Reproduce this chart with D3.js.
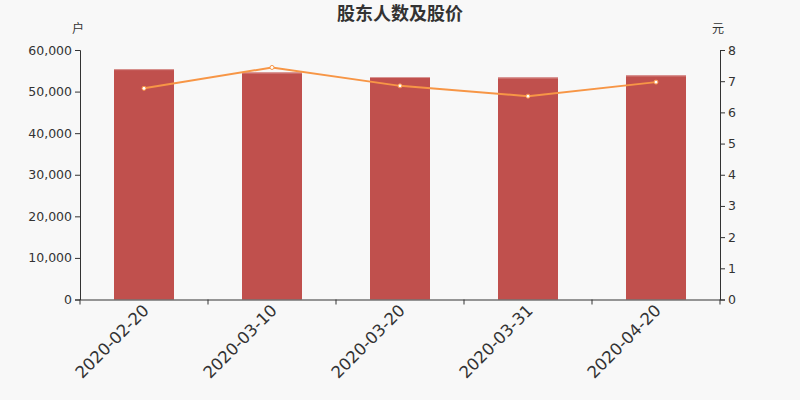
<!DOCTYPE html>
<html>
<head>
<meta charset="utf-8">
<script src="https://cdn.jsdelivr.net/npm/d3@7/dist/d3.min.js"></script>
<style>
  body { margin: 0; background: #f8f8f8; }
  svg { display: block; font-family: "DejaVu Sans", sans-serif; }
</style>
</head>
<body>
<div id="chart"></div>
<script>
const FRAME_WIDTH = 800;
const FRAME_HEIGHT = 400;
const MARGINS = {left: 80, right: 80, top: 50, bottom: 100.5};

const dates = ["2020-02-20", "2020-03-10", "2020-03-20", "2020-03-31", "2020-04-20"];
const holders = [55400, 54600, 53500, 53400, 53900];
const prices = [6.77, 7.44, 6.85, 6.52, 6.97];
const leftTicks = [0, 10000, 20000, 30000, 40000, 50000, 60000];
const rightTicks = [0, 1, 2, 3, 4, 5, 6, 7, 8];

const VIS_WIDTH = FRAME_WIDTH - MARGINS.left - MARGINS.right;
const VIS_HEIGHT = FRAME_HEIGHT - MARGINS.top - MARGINS.bottom;

const FRAME = d3.select("#chart")
  .append("svg")
    .attr("width", FRAME_WIDTH)
    .attr("height", FRAME_HEIGHT);

FRAME.append("rect")
  .attr("width", FRAME_WIDTH)
  .attr("height", FRAME_HEIGHT)
  .attr("fill", "#f8f8f8");

const X_SCALE = d3.scaleBand()
  .domain(dates)
  .range([MARGINS.left, MARGINS.left + VIS_WIDTH]);

const Y_LEFT = d3.scaleLinear()
  .domain([0, 60000])
  .range([MARGINS.top + VIS_HEIGHT, MARGINS.top]);

const Y_RIGHT = d3.scaleLinear()
  .domain([0, 8])
  .range([MARGINS.top + VIS_HEIGHT, MARGINS.top]);

const BAR_W = 60;
const data = dates.map((d, i) => ({date: d, holders: holders[i], price: prices[i]}));

// bars
FRAME.selectAll(".bar")
  .data(data)
  .enter()
  .append("rect")
    .attr("class", "bar")
    .attr("x", d => X_SCALE(d.date) + (X_SCALE.bandwidth() - BAR_W) / 2)
    .attr("y", d => Y_LEFT(d.holders))
    .attr("width", BAR_W)
    .attr("height", d => Y_LEFT(0) - Y_LEFT(d.holders))
    .attr("fill", "#c0504d");

// thin lighter cap on each bar
FRAME.selectAll(".cap")
  .data(data)
  .enter()
  .append("rect")
    .attr("class", "cap")
    .attr("x", d => X_SCALE(d.date) + (X_SCALE.bandwidth() - BAR_W) / 2)
    .attr("y", d => Y_LEFT(d.holders))
    .attr("width", BAR_W)
    .attr("height", 1)
    .attr("fill", "#d99694");

// axes
const axisColor = "#333";

const leftAxis = FRAME.append("g")
  .attr("transform", `translate(${MARGINS.left},0)`)
  .call(d3.axisLeft(Y_LEFT).tickValues(leftTicks).tickSize(5).tickPadding(3)
    .tickFormat(d3.format(",")));

const rightAxis = FRAME.append("g")
  .attr("transform", `translate(${MARGINS.left + VIS_WIDTH},0)`)
  .call(d3.axisRight(Y_RIGHT).tickValues(rightTicks).tickSize(5).tickPadding(3));

const bottomAxis = FRAME.append("g")
  .attr("transform", `translate(0,${MARGINS.top + VIS_HEIGHT})`)
  .call(d3.axisBottom(X_SCALE).tickSize(0).tickFormat(""));

// band boundary ticks on x axis
bottomAxis.selectAll(".bound")
  .data(dates.concat(["end"]))
  .enter()
  .append("line")
    .attr("class", "bound")
    .attr("x1", (d, i) => i < dates.length ? X_SCALE(d) : X_SCALE.range()[1])
    .attr("x2", (d, i) => i < dates.length ? X_SCALE(d) : X_SCALE.range()[1])
    .attr("y1", 0)
    .attr("y2", 5)
    .attr("stroke", axisColor);

bottomAxis.selectAll(".xlabel")
  .data(dates)
  .enter()
  .append("text")
    .attr("class", "xlabel")
    .attr("transform", d => `translate(${X_SCALE(d) + X_SCALE.bandwidth() / 2 + 6},12) rotate(-45)`)
    .attr("text-anchor", "end")
    .attr("fill", axisColor)
    .attr("font-size", 16.5)
    .text(d => d);

[leftAxis, rightAxis, bottomAxis].forEach(g => {
  g.attr("font-family", "'DejaVu Sans', sans-serif");
  g.select(".domain").attr("stroke", axisColor);
  g.selectAll(".tick line").attr("stroke", axisColor);
  g.selectAll(".tick text").attr("fill", axisColor).attr("font-size", 12.5);
});

// price line
const line = d3.line()
  .x(d => X_SCALE(d.date) + X_SCALE.bandwidth() / 2)
  .y(d => Y_RIGHT(d.price));

FRAME.append("path")
  .datum(data)
  .attr("d", line)
  .attr("fill", "none")
  .attr("stroke", "#f79646")
  .attr("stroke-width", 2);

FRAME.selectAll(".pt")
  .data(data)
  .enter()
  .append("circle")
    .attr("class", "pt")
    .attr("cx", d => X_SCALE(d.date) + X_SCALE.bandwidth() / 2)
    .attr("cy", d => Y_RIGHT(d.price))
    .attr("r", 2)
    .attr("fill", "#fff")
    .attr("stroke", "#f79646")
    .attr("stroke-width", 1);

// title and units
FRAME.append("text")
  .attr("x", 400)
  .attr("y", 20)
  .attr("text-anchor", "middle")
  .attr("font-size", 18)
  .attr("font-weight", "bold")
  .attr("fill", "#333")
  .attr("font-family", "'Noto Sans CJK SC', sans-serif")
  .text("股东人数及股价");

FRAME.append("text")
  .attr("x", 78)
  .attr("y", 33)
  .attr("text-anchor", "middle")
  .attr("font-size", 12)
  .attr("fill", "#333")
  .attr("font-family", "'Noto Sans CJK SC', sans-serif")
  .text("户");

FRAME.append("text")
  .attr("x", 718)
  .attr("y", 33)
  .attr("text-anchor", "middle")
  .attr("font-size", 12)
  .attr("fill", "#333")
  .attr("font-family", "'Noto Sans CJK SC', sans-serif")
  .text("元");
</script>
</body>
</html>
